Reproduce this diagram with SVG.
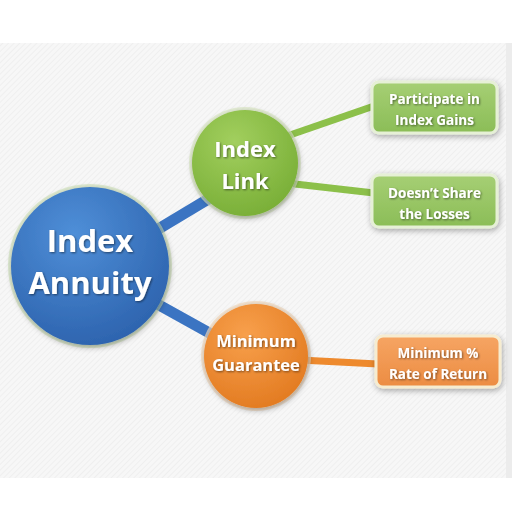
<svg xmlns="http://www.w3.org/2000/svg" width="512" height="512" viewBox="0 0 512 512">
<defs>
<radialGradient id="gBlue" cx="0.4" cy="0.3" r="0.75">
<stop offset="0" stop-color="#4f8fd8"/><stop offset="1" stop-color="#2c62ad"/>
</radialGradient>
<radialGradient id="gGreen" cx="0.4" cy="0.3" r="0.75">
<stop offset="0" stop-color="#a2cf5e"/><stop offset="1" stop-color="#78ae36"/>
</radialGradient>
<radialGradient id="gOrange" cx="0.4" cy="0.3" r="0.75">
<stop offset="0" stop-color="#f8a04c"/><stop offset="1" stop-color="#e27a20"/>
</radialGradient>
<linearGradient id="bGreen" x1="0" y1="0" x2="0" y2="1">
<stop offset="0" stop-color="#a6cf74"/><stop offset="1" stop-color="#8bbd57"/>
</linearGradient>
<linearGradient id="bOrange" x1="0" y1="0" x2="0" y2="1">
<stop offset="0" stop-color="#f6a563"/><stop offset="1" stop-color="#ec8c42"/>
</linearGradient>
<pattern id="hatch" width="4" height="4" patternUnits="userSpaceOnUse" patternTransform="rotate(45)">
<rect width="4" height="4" fill="#f7f7f7"/><rect width="1" height="4" fill="#efefef"/>
</pattern>
<filter id="sh" x="-20%" y="-20%" width="140%" height="140%">
<feGaussianBlur in="SourceAlpha" stdDeviation="3"/><feOffset dx="1" dy="2"/>
<feComponentTransfer><feFuncA type="linear" slope="0.35"/></feComponentTransfer>
<feMerge><feMergeNode/><feMergeNode in="SourceGraphic"/></feMerge>
</filter>
<filter id="ts" x="-10%" y="-30%" width="120%" height="160%">
<feGaussianBlur in="SourceAlpha" stdDeviation="1"/><feOffset dx="0.5" dy="1"/>
<feComponentTransfer><feFuncA type="linear" slope="0.5"/></feComponentTransfer>
<feMerge><feMergeNode/><feMergeNode in="SourceGraphic"/></feMerge>
</filter>
</defs>
<style>
text{font-family:"Open Sans","Noto Sans","Liberation Sans",sans-serif;font-weight:700;fill:#ffffff;text-anchor:middle;filter:url(#ts)}
.c{stroke-linecap:round;fill:none}
</style>
<rect x="0" y="0" width="512" height="512" fill="#ffffff"/>
<rect x="0" y="43" width="506" height="435" fill="url(#hatch)"/>
<rect x="506" y="43" width="6" height="435" fill="#ececec"/>
<g id="connectors">
<line class="c" x1="150" y1="234" x2="210" y2="198" stroke="#3b74c2" stroke-width="11"/>
<line class="c" x1="150" y1="300" x2="222" y2="340" stroke="#3b74c2" stroke-width="11"/>
<line class="c" x1="290" y1="135" x2="374" y2="106" stroke="#8cc04a" stroke-width="7"/>
<line class="c" x1="295" y1="184" x2="374" y2="193" stroke="#8cc04a" stroke-width="7"/>
<line class="c" x1="300" y1="360" x2="378" y2="364" stroke="#ee8a2e" stroke-width="7"/>
</g>
<g id="index-annuity">
<circle cx="90" cy="266" r="82" fill="#cfe2b8" opacity="0.6"/>
<circle cx="90" cy="266" r="79" fill="url(#gBlue)" filter="url(#sh)"/>
<text x="90" y="252" font-size="31">Index</text>
<text x="90" y="294" font-size="31">Annuity</text>
</g>
<g id="index-link">
<circle cx="245" cy="163" r="56" fill="#dde9c8" opacity="0.7"/>
<circle cx="245" cy="163" r="53" fill="url(#gGreen)" filter="url(#sh)"/>
<text x="245" y="157" font-size="22">Index</text>
<text x="245" y="189" font-size="22">Link</text>
</g>
<g id="minimum-guarantee">
<circle cx="256" cy="356" r="55" fill="#f3dcc0" opacity="0.7"/>
<circle cx="256" cy="356" r="52" fill="url(#gOrange)" filter="url(#sh)"/>
<text x="256" y="347" font-size="16.5">Minimum</text>
<text x="256" y="371" font-size="16.5">Guarantee</text>
</g>
<g id="participate">
<rect x="372" y="82" width="125" height="51" rx="7" fill="url(#bGreen)" stroke="#e6f0d6" stroke-width="3" filter="url(#sh)"/>
<text x="434.5" y="104" font-size="13.5">Participate in</text>
<text x="434.5" y="125" font-size="13.5">Index Gains</text>
</g>
<g id="doesnt-share">
<rect x="372" y="175" width="125" height="52" rx="7" fill="url(#bGreen)" stroke="#e6f0d6" stroke-width="3" filter="url(#sh)"/>
<text x="434.5" y="198" font-size="13.5">Doesn’t Share</text>
<text x="434.5" y="219" font-size="13.5">the Losses</text>
</g>
<g id="min-rate">
<rect x="376" y="336" width="124" height="51" rx="7" fill="url(#bOrange)" stroke="#f6ecd0" stroke-width="3" filter="url(#sh)"/>
<text x="438" y="358" font-size="13.5">Minimum %</text>
<text x="438" y="379" font-size="13.5">Rate of Return</text>
</g>
</svg>
